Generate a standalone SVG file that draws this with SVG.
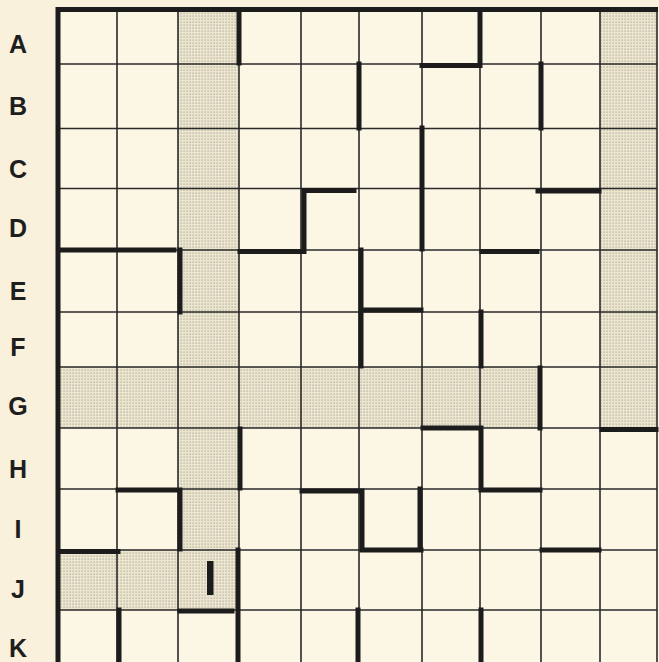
<svg xmlns="http://www.w3.org/2000/svg" width="659" height="662" viewBox="0 0 659 662">
<defs>
<pattern id="dots" width="3" height="3" patternUnits="userSpaceOnUse">
<rect width="3" height="3" fill="#ede6cf"/>
<rect x="0.5" y="0.5" width="1.2" height="1.2" fill="#a9a597"/>
</pattern>
<style>
.lbl{font-family:"Liberation Sans",Arial,sans-serif;font-weight:bold;font-size:25px;fill:#1e1e1e;text-anchor:middle}
.thin{stroke:#2a2a2a;stroke-width:1.6;fill:none}
.wall{stroke:#1c1c1c;stroke-width:5;fill:none;stroke-linecap:square}
.sh{fill:url(#dots)}
</style>
</defs>
<rect width="659" height="662" fill="#f9f1dc"/>
<rect x="58" y="9.5" width="601" height="660" fill="#fcf6e4"/>
<g id="shading">
<rect class="sh" x="178" y="9.5" width="61" height="357.5"/>
<rect class="sh" x="600" y="9.5" width="57" height="357.5"/>
<rect class="sh" x="58" y="367" width="483" height="61"/>
<rect class="sh" x="600" y="367" width="57" height="61"/>
<rect class="sh" x="178" y="428" width="61" height="182"/>
<rect class="sh" x="58" y="550" width="120" height="60"/>
</g>
<g id="grid">
<path class="thin" d="M117 9.5V670M178 9.5V670M239 9.5V670M301 9.5V670M359 9.5V670M422 9.5V670M480 9.5V670M541 9.5V670M600 9.5V670M657 9.5V670"/>
<path class="thin" d="M58 64H657M58 128.5H657M58 188.5H657M58 250H657M58 312H657M58 367H657M58 428H657M58 489H657M58 550H657M58 610H657"/>
<path stroke="#1c1c1c" stroke-width="5" fill="none" d="M58 670V9.5H658"/>
</g>
<g id="walls">
<path class="wall" d="M239 11V63M480 11V64M422 65.5H480M359 64V128M541 64V128M422 128V249M304 190.5H354M304 190.5V250M240 251.5H304M538 191H599M59 250H174M180 250V312M482 251.5H537M361 250V366M361 310H421M481 312V366M540 368V428M423 428H481M481 428V489M481 490H540M602 429.5H656M240 429V488M118 490H180M180 490V549M302 491H362M362 491V550M362 550H421M420 489V550M59 551.5H118M542 550H599M238 550V670M180 611H232M119 610V670M358 610V670M481 610V670"/>
<rect x="207" y="561" width="6.5" height="34" fill="#1c1c1c"/>
</g>
<g id="labels">
<text class="lbl" x="18" y="53">A</text>
<text class="lbl" x="18" y="115">B</text>
<text class="lbl" x="18" y="178">C</text>
<text class="lbl" x="18" y="237">D</text>
<text class="lbl" x="18" y="300">E</text>
<text class="lbl" x="18" y="356">F</text>
<text class="lbl" x="18" y="415">G</text>
<text class="lbl" x="18" y="478">H</text>
<text class="lbl" x="18" y="538">I</text>
<text class="lbl" x="18" y="598">J</text>
<text class="lbl" x="18" y="657">K</text>
</g>
</svg>
